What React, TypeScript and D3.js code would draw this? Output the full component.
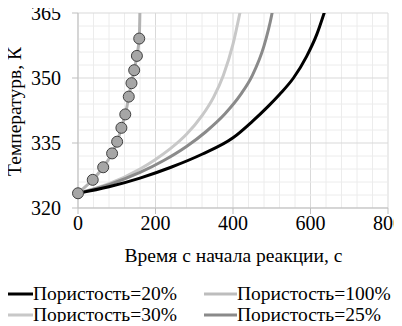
import React from "react";
import * as d3 from "d3";

const xTicks = [0, 200, 400, 600, 800];
const yTicks = [320, 335, 350, 365];

const t100 = [0, 38, 65, 88, 101, 112, 122, 131, 138, 145, 152, 158, 160];
const T100 = [323.4, 326.5, 329.4, 332.6, 335.3, 338.5, 341.6, 345.7, 348.8, 351.8, 355.1, 359.1, 367];
const circT = [0, 38, 65, 88, 101, 112, 122, 131, 138, 145, 152, 158];
const circY = [323.4, 326.5, 329.4, 332.6, 335.3, 338.5, 341.6, 345.7, 348.8, 351.8, 355.1, 359.1];

const t30 = [0, 80, 160, 200, 240, 280, 320, 350, 375, 400, 420];
const T30 = [323.4, 325.6, 329.0, 331.2, 333.8, 337.0, 341.3, 345.6, 350.6, 357.8, 366];

const t25 = [0, 80, 160, 220, 280, 330, 380, 420, 450, 480, 500, 505];
const T25 = [323.4, 325.4, 328.2, 330.9, 334.2, 337.6, 341.8, 346.2, 350.6, 357.4, 364.6, 367];

const t20 = [0, 80, 160, 240, 320, 400, 450, 490, 520, 556, 590, 616, 636];
const T20 = [323.4, 324.9, 326.9, 329.4, 332.4, 336.2, 340.0, 343.4, 346.2, 350.0, 355.0, 360.0, 365.2];

const legendItems = [
  { label: "Пористость=20%", color: "#000000" },
  { label: "Пористость=100%", color: "#bdbdbd" },
  { label: "Пористость=30%", color: "#c8c8c8" },
  { label: "Пористость=25%", color: "#8a8a8a" },
];

const FONT = `"Liberation Serif"`;

export default function App() {
  const W = 402, H = 326;
  const left = 78, right = 388, top = 13, bottom = 208;
  const x = d3.scaleLinear().domain([0, 800]).range([left, right]);
  const y = d3.scaleLinear().domain([320, 365]).range([bottom, top]);
  const line = d3.line<[number, number]>().x(d => x(d[0])).y(d => y(d[1])).curve(d3.curveMonotoneX);
  const lineV = d3.line<[number, number]>().x(d => x(d[0])).y(d => y(d[1])).curve(d3.curveMonotoneY);
  const z = (a: number[], b: number[]) => a.map((v, i) => [v, b[i]] as [number, number]);
  const minorX = d3.range(0, 801, 40);
  const minorY = d3.range(320, 365.1, 3);
  return (
    <div style={{ margin: "-8px" }}>
      <svg width={W} height={H}>
        <defs>
          <clipPath id="plot">
            <rect x={left} y={top} width={right - left} height={bottom - top} />
          </clipPath>
        </defs>
        {minorX.map(v => (
          <line key={"mx" + v} x1={x(v)} x2={x(v)} y1={top} y2={bottom} stroke={v % 200 === 0 ? "#d9d9d9" : "#ececec"} strokeWidth={1} />
        ))}
        {minorY.map(v => (
          <line key={"my" + v} x1={left} x2={right} y1={y(v)} y2={y(v)} stroke={Math.abs((v - 320) % 15) < 0.01 ? "#d9d9d9" : "#ececec"} strokeWidth={1} />
        ))}
        <line x1={left} x2={left} y1={top} y2={bottom} stroke="#bfbfbf" />
        <line x1={left} x2={right} y1={bottom} y2={bottom} stroke="#bfbfbf" />
        {yTicks.map(v => (
          <g key={"yt" + v}>
            <line x1={left - 6} x2={left} y1={y(v)} y2={y(v)} stroke="#bfbfbf" />
            <text style={{ fontFamily: FONT }} x={left - 17} y={y(v) + 6.6} textAnchor="end" fontSize={20}>{v}</text>
          </g>
        ))}
        {xTicks.map(v => (
          <g key={"xt" + v}>
            <line x1={x(v)} x2={x(v)} y1={bottom} y2={bottom + 6} stroke="#bfbfbf" />
            <text style={{ fontFamily: FONT }} x={x(v)} y={230} textAnchor="middle" fontSize={20}>{v}</text>
          </g>
        ))}
        <text style={{ fontFamily: FONT }} transform={`translate(21,${(top + bottom) / 2 + 1}) rotate(-90)`} textAnchor="middle" fontSize={19.5}>Температурв, К</text>
        <text style={{ fontFamily: FONT }} x={233.5} y={261.5} textAnchor="middle" fontSize={19.5}>Время с начала реакции, с</text>
        <g clipPath="url(#plot)">
          <path d={line(z(t30, T30)) || ""} fill="none" stroke="#c8c8c8" strokeWidth={3} />
          <path d={line(z(t25, T25)) || ""} fill="none" stroke="#8a8a8a" strokeWidth={3} />
          <path d={line(z(t20, T20)) || ""} fill="none" stroke="#000" strokeWidth={3} />
          <path d={lineV(z(t100, T100)) || ""} fill="none" stroke="#b3b3b3" strokeWidth={3} />
        </g>
        {circT.map((v, i) => (
          <circle key={"c" + i} cx={x(v)} cy={y(circY[i])} r={5.5} fill="#a6a6a6" stroke="#404040" strokeWidth={1} />
        ))}
        {legendItems.map((it, i) => {
          const col = i % 2, row = Math.floor(i / 2);
          const lx = col === 0 ? 0 : 204;
          const ly = row === 0 ? 294 : 315;
          return (
            <g key={"lg" + i}>
              <line x1={lx} x2={lx + 33} y1={ly} y2={ly} stroke={it.color} strokeWidth={3} />
              <text style={{ fontFamily: FONT }} x={lx + 33} y={ly + 6.4} fontSize={19.5}>{it.label}</text>
            </g>
          );
        })}
      </svg>
    </div>
  );
}
